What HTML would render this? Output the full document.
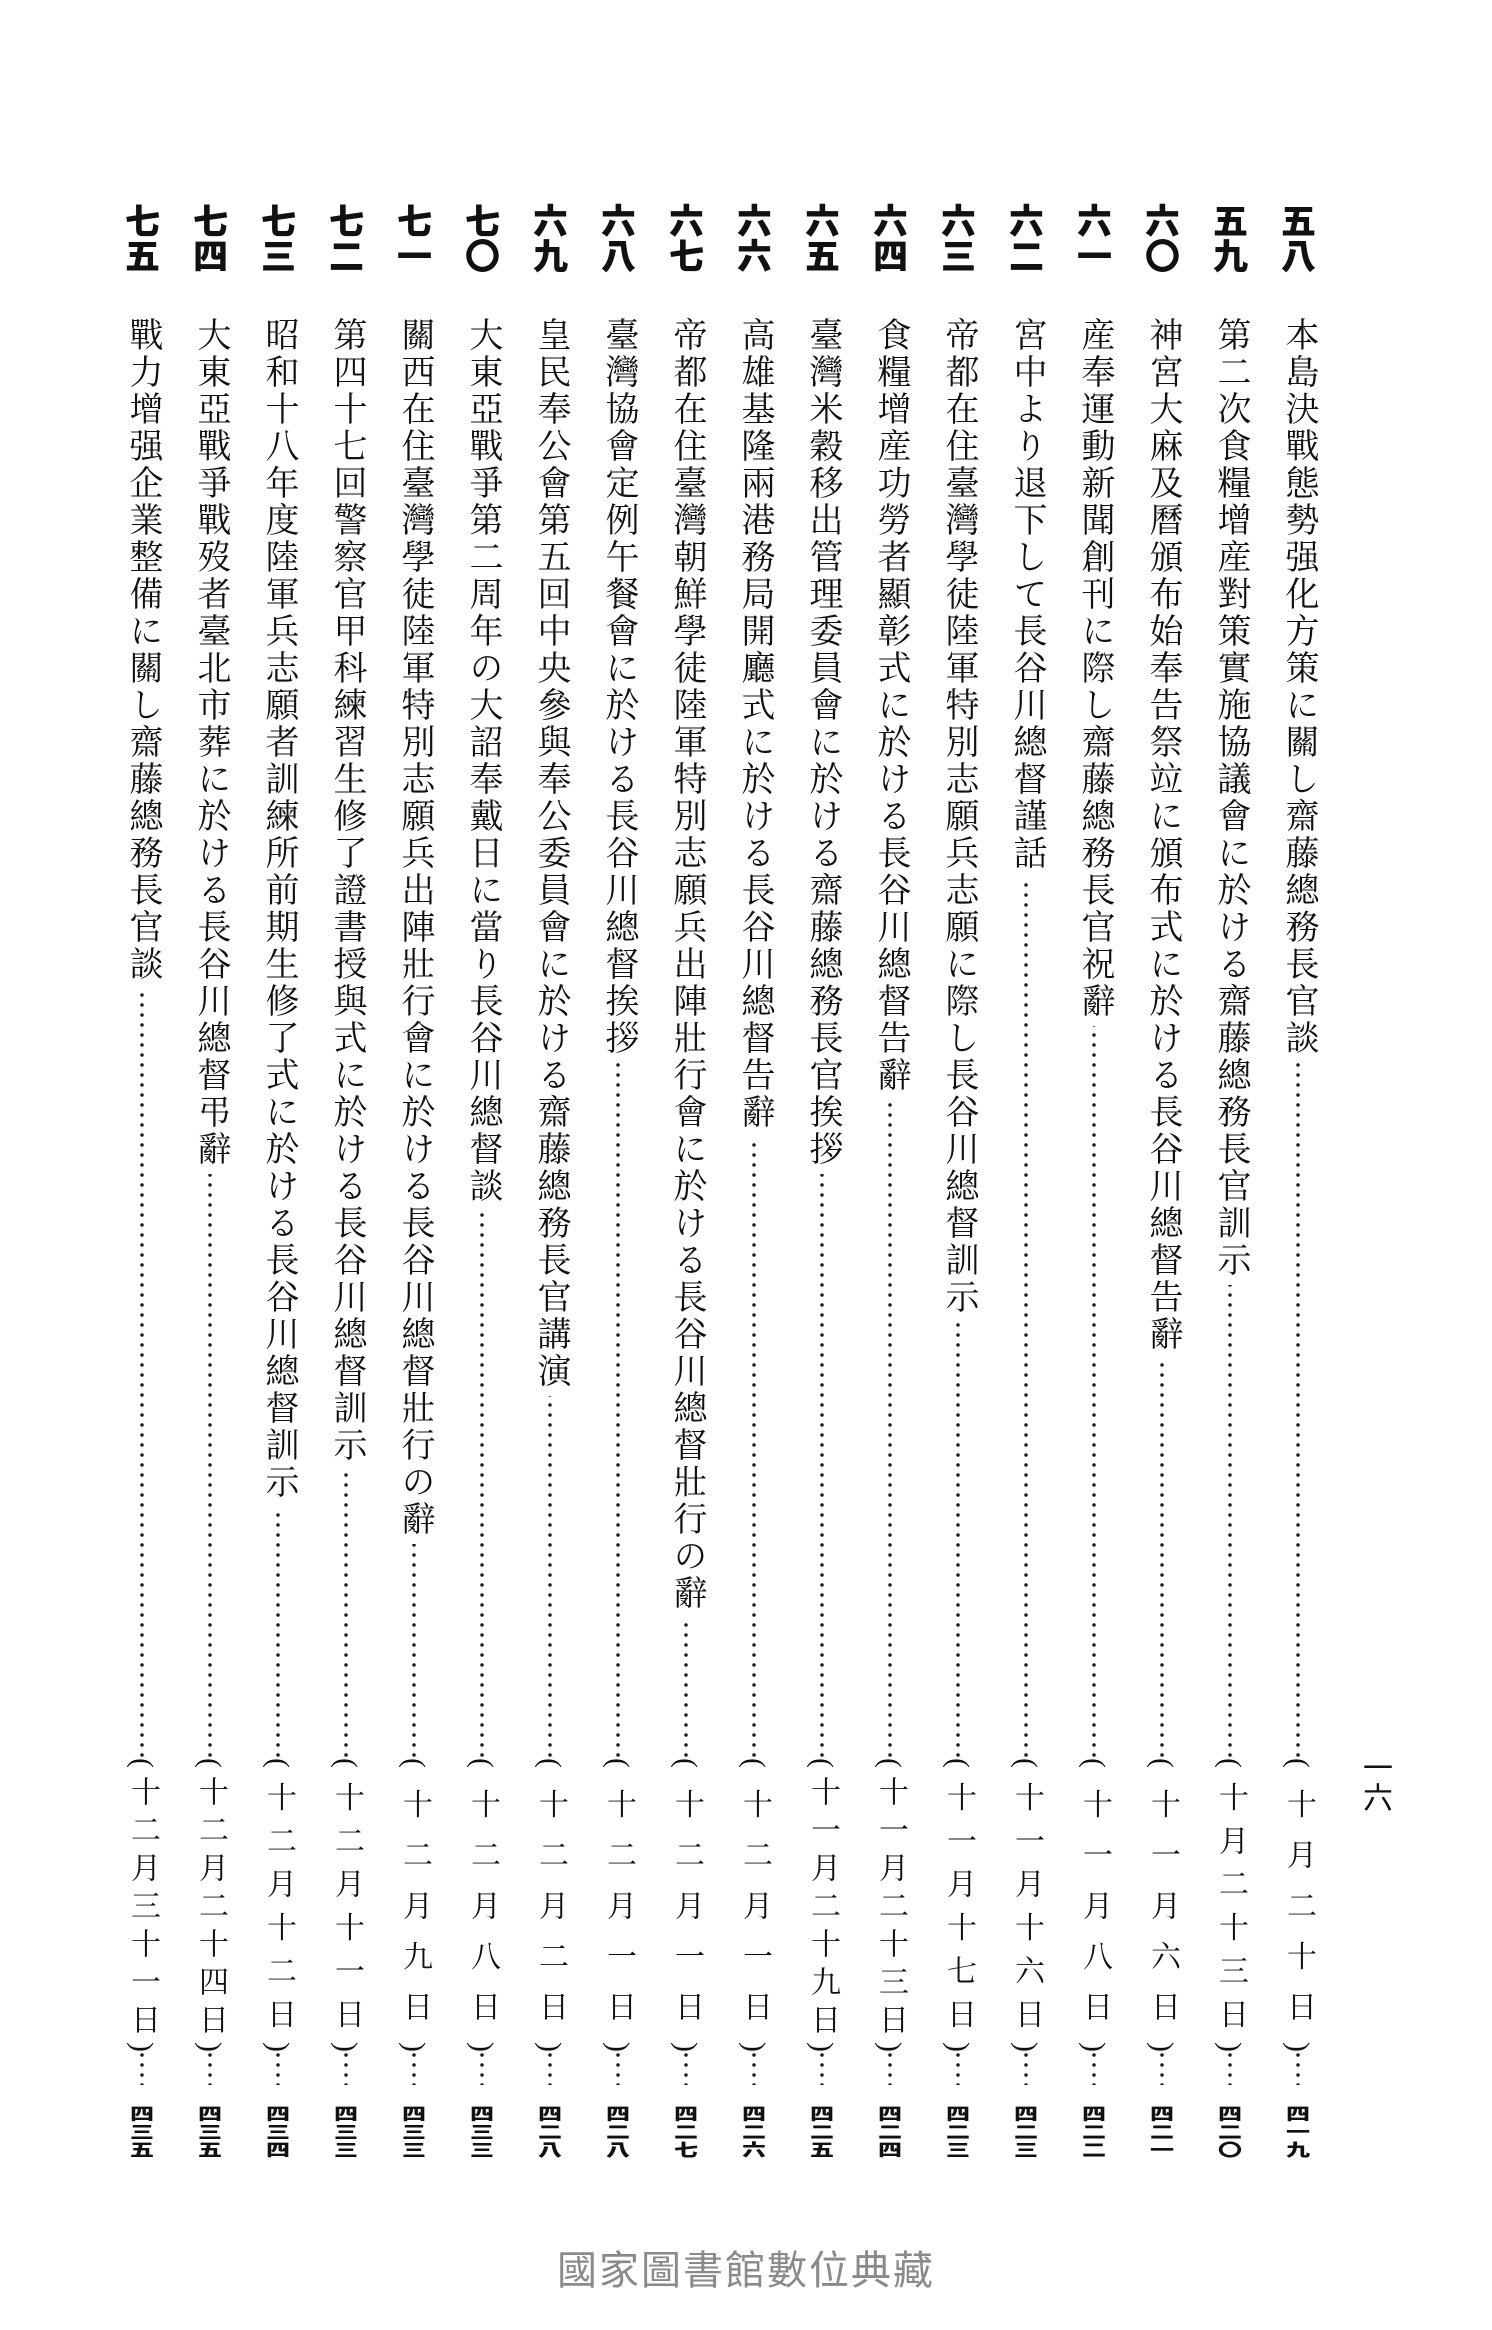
<!DOCTYPE html>
<html><head><meta charset="utf-8">
<style>
body{margin:0;width:1492px;height:2330px;background:#fff;position:relative;overflow:hidden;font-family:"Liberation Serif","Noto Serif CJK SC","Noto Sans CJK JP",serif;color:#111}
.c{position:absolute;top:0;width:60px;height:2330px}
.n{position:absolute;top:203px;left:0;width:60px;writing-mode:vertical-rl;font-family:"Noto Sans CJK JP",sans-serif;font-weight:900;font-size:35px;line-height:60px;text-align:center;letter-spacing:0}
.d{position:absolute;left:28px;top:330px;height:1755px;width:4px;background:radial-gradient(circle,#222 1.6px,transparent 2px) 0 0/4px 10px repeat-y}
.t{position:absolute;top:317px;left:0;width:60px;writing-mode:vertical-rl;font-size:34px;line-height:60px;letter-spacing:3px;text-align:center}
.t span{background:#fff;padding-bottom:6px}
.dt{position:absolute;top:1758px;left:0;width:60px;height:294px;writing-mode:vertical-rl;font-size:30px;line-height:60px;text-align:justify;text-align-last:justify;background:#fff}
.p{position:absolute;top:2104px;left:0;width:60px;height:54px;background:#fff;display:flex;flex-direction:column;align-items:center;justify-content:space-between;font-family:"Noto Sans CJK JP",sans-serif;font-weight:900;font-size:24px;line-height:18px}
.p b{display:block;transform:scaleY(0.7);height:18px}
</style></head><body>
<div style="position:absolute;left:1360px;top:1752px;writing-mode:vertical-rl;font-size:30px;line-height:36px;font-family:'Noto Sans CJK JP',sans-serif">一六</div>

<div class="c" style="left:1268px"><div class="d"></div><div class="n">五八</div><div class="t"><span>本島決戰態勢强化方策に關し齋藤總務長官談</span></div><div class="dt">(十月二十日)</div><div class="p"><b>四</b><b>一</b><b>九</b></div></div>
<div class="c" style="left:1200px"><div class="d"></div><div class="n">五九</div><div class="t"><span>第二次食糧增産對策實施協議會に於ける齋藤總務長官訓示</span></div><div class="dt">(十月二十三日)</div><div class="p"><b>四</b><b>二</b><b>〇</b></div></div>
<div class="c" style="left:1132px"><div class="d"></div><div class="n">六〇</div><div class="t"><span>神宮大麻及曆頒布始奉告祭竝に頒布式に於ける長谷川總督告辭</span></div><div class="dt">(十一月六日)</div><div class="p"><b>四</b><b>二</b><b>一</b></div></div>
<div class="c" style="left:1064px"><div class="d"></div><div class="n">六一</div><div class="t"><span>産奉運動新聞創刊に際し齋藤總務長官祝辭</span></div><div class="dt">(十一月八日)</div><div class="p"><b>四</b><b>二</b><b>二</b></div></div>
<div class="c" style="left:996px"><div class="d"></div><div class="n">六二</div><div class="t"><span>宮中より退下して長谷川總督謹話</span></div><div class="dt">(十一月十六日)</div><div class="p"><b>四</b><b>二</b><b>三</b></div></div>
<div class="c" style="left:928px"><div class="d"></div><div class="n">六三</div><div class="t"><span>帝都在住臺灣學徒陸軍特別志願兵志願に際し長谷川總督訓示</span></div><div class="dt">(十一月十七日)</div><div class="p"><b>四</b><b>二</b><b>三</b></div></div>
<div class="c" style="left:860px"><div class="d"></div><div class="n">六四</div><div class="t"><span>食糧增産功勞者顯彰式に於ける長谷川總督告辭</span></div><div class="dt">(十一月二十三日)</div><div class="p"><b>四</b><b>二</b><b>四</b></div></div>
<div class="c" style="left:792px"><div class="d"></div><div class="n">六五</div><div class="t"><span>臺灣米穀移出管理委員會に於ける齋藤總務長官挨拶</span></div><div class="dt">(十一月二十九日)</div><div class="p"><b>四</b><b>二</b><b>五</b></div></div>
<div class="c" style="left:724px"><div class="d"></div><div class="n">六六</div><div class="t"><span>高雄基隆兩港務局開廳式に於ける長谷川總督告辭</span></div><div class="dt">(十二月一日)</div><div class="p"><b>四</b><b>二</b><b>六</b></div></div>
<div class="c" style="left:656px"><div class="d"></div><div class="n">六七</div><div class="t"><span>帝都在住臺灣朝鮮學徒陸軍特別志願兵出陣壯行會に於ける長谷川總督壯行の辭</span></div><div class="dt">(十二月一日)</div><div class="p"><b>四</b><b>二</b><b>七</b></div></div>
<div class="c" style="left:588px"><div class="d"></div><div class="n">六八</div><div class="t"><span>臺灣協會定例午餐會に於ける長谷川總督挨拶</span></div><div class="dt">(十二月一日)</div><div class="p"><b>四</b><b>二</b><b>八</b></div></div>
<div class="c" style="left:520px"><div class="d"></div><div class="n">六九</div><div class="t"><span>皇民奉公會第五回中央參與奉公委員會に於ける齋藤總務長官講演</span></div><div class="dt">(十二月二日)</div><div class="p"><b>四</b><b>二</b><b>八</b></div></div>
<div class="c" style="left:452px"><div class="d"></div><div class="n">七〇</div><div class="t"><span>大東亞戰爭第二周年の大詔奉戴日に當り長谷川總督談</span></div><div class="dt">(十二月八日)</div><div class="p"><b>四</b><b>三</b><b>三</b></div></div>
<div class="c" style="left:384px"><div class="d"></div><div class="n">七一</div><div class="t"><span>關西在住臺灣學徒陸軍特別志願兵出陣壯行會に於ける長谷川總督壯行の辭</span></div><div class="dt">(十二月九日)</div><div class="p"><b>四</b><b>三</b><b>三</b></div></div>
<div class="c" style="left:316px"><div class="d"></div><div class="n">七二</div><div class="t"><span>第四十七回警察官甲科練習生修了證書授與式に於ける長谷川總督訓示</span></div><div class="dt">(十二月十一日)</div><div class="p"><b>四</b><b>三</b><b>三</b></div></div>
<div class="c" style="left:248px"><div class="d"></div><div class="n">七三</div><div class="t"><span>昭和十八年度陸軍兵志願者訓練所前期生修了式に於ける長谷川總督訓示</span></div><div class="dt">(十二月十二日)</div><div class="p"><b>四</b><b>三</b><b>四</b></div></div>
<div class="c" style="left:180px"><div class="d"></div><div class="n">七四</div><div class="t"><span>大東亞戰爭戰歿者臺北市葬に於ける長谷川總督弔辭</span></div><div class="dt">(十二月二十四日)</div><div class="p"><b>四</b><b>三</b><b>五</b></div></div>
<div class="c" style="left:112px"><div class="d"></div><div class="n">七五</div><div class="t"><span>戰力增强企業整備に關し齋藤總務長官談</span></div><div class="dt">(十二月三十一日)</div><div class="p"><b>四</b><b>三</b><b>五</b></div></div>

<div style="position:absolute;left:0;width:1492px;top:2238px;text-align:center;font-family:'Noto Sans CJK TC',sans-serif;font-size:40px;color:#8a8a8a;letter-spacing:2px">國家圖書館數位典藏</div>
</body></html>
